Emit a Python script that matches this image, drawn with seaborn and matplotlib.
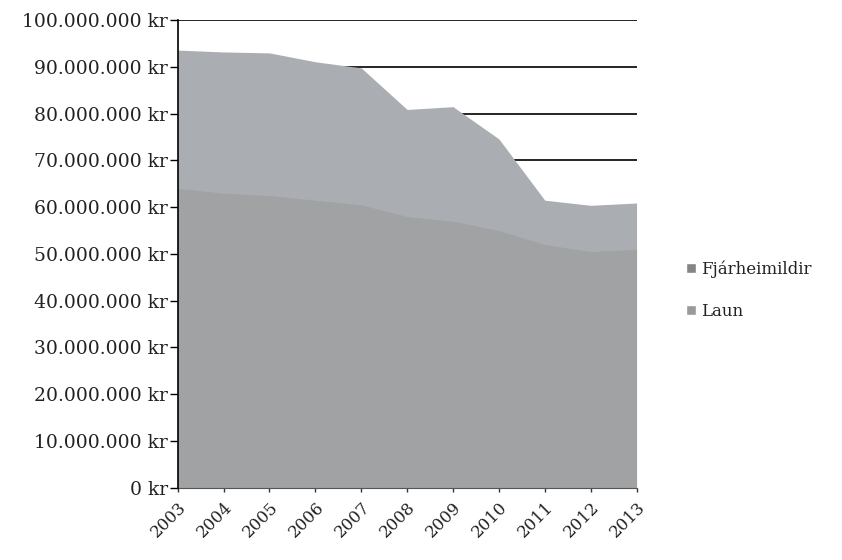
import numpy as np
import pandas as pd
import seaborn as sns
import matplotlib.pyplot as plt
from matplotlib.patches import Patch
from matplotlib.ticker import FuncFormatter

# gildi lesin af myndinni (milljónir kr)
years = ['2003', '2004', '2005', '2006', '2007', '2008', '2009', '2010', '2011', '2012', '2013']
fjarheimildir = [93.6, 93.2, 93.0, 91.1, 89.8, 80.9, 81.5, 74.6, 61.5, 60.4, 60.9]
laun = [64.0, 63.0, 62.5, 61.5, 60.5, 58.0, 57.0, 55.0, 52.0, 50.5, 51.0]
series_names = ['Fjárheimildir', 'Laun']

df = pd.DataFrame({'ar': years, 'Fjárheimildir': fjarheimildir, 'Laun': laun})
df['x'] = np.arange(len(df))

sns.set_style('white')
plt.rcParams['font.family'] = ['DejaVu Serif']

fig = plt.figure(figsize=(8.42, 5.6), dpi=100)
ax = fig.add_axes([0.211, 0.129, 0.545, 0.835])

colors = {'Fjárheimildir': '#aaadb2', 'Laun': '#a0a2a4'}

# gridlínur fyrst, svæðin yfir
for v in range(10, 101, 10):
    ax.axhline(v * 1e6, color='black', lw=1.2, zorder=0)

for name in series_names:
    ax.fill_between(df['x'], df[name] * 1e6, color=colors[name], lw=0, zorder=2)

ax.set_xlim(0, len(df) - 1)
ax.set_ylim(0, 100e6)
ax.set_yticks(np.arange(0, 100e6 + 1, 10e6))
ax.yaxis.set_major_formatter(FuncFormatter(lambda v, p: f'{int(v):,} kr'.replace(',', '.')))
ax.set_xticks(df['x'])
ax.set_xticklabels(df['ar'], rotation=45, ha='right', rotation_mode='anchor')

for s in ['top', 'right']:
    ax.spines[s].set_visible(False)
ax.spines['left'].set_color('black')
ax.spines['left'].set_linewidth(1.2)
ax.spines['bottom'].set_color('#555555')
ax.spines['left'].set_zorder(3)
ax.tick_params(axis='y', direction='out', length=6, width=1, color='black',
               labelsize=13.5, pad=1, labelcolor='#222222')
ax.tick_params(axis='x', direction='out', length=3, width=1, color='#333333',
               labelsize=12, pad=5, labelcolor='#222222')
ax.yaxis.set_ticks_position('left')
ax.xaxis.set_ticks_position('bottom')

handles = [Patch(facecolor='#858585', label='Fjárheimildir'),
           Patch(facecolor='#9a9a9a', label='Laun')]
fig.legend(handles=handles, loc='center left', bbox_to_anchor=(0.797, 0.482),
           frameon=False, fontsize=12, handlelength=0.6, handleheight=0.6,
           handletextpad=0.3, labelspacing=1.5, labelcolor='#222222')

fig.savefig('out.png', dpi=100)
